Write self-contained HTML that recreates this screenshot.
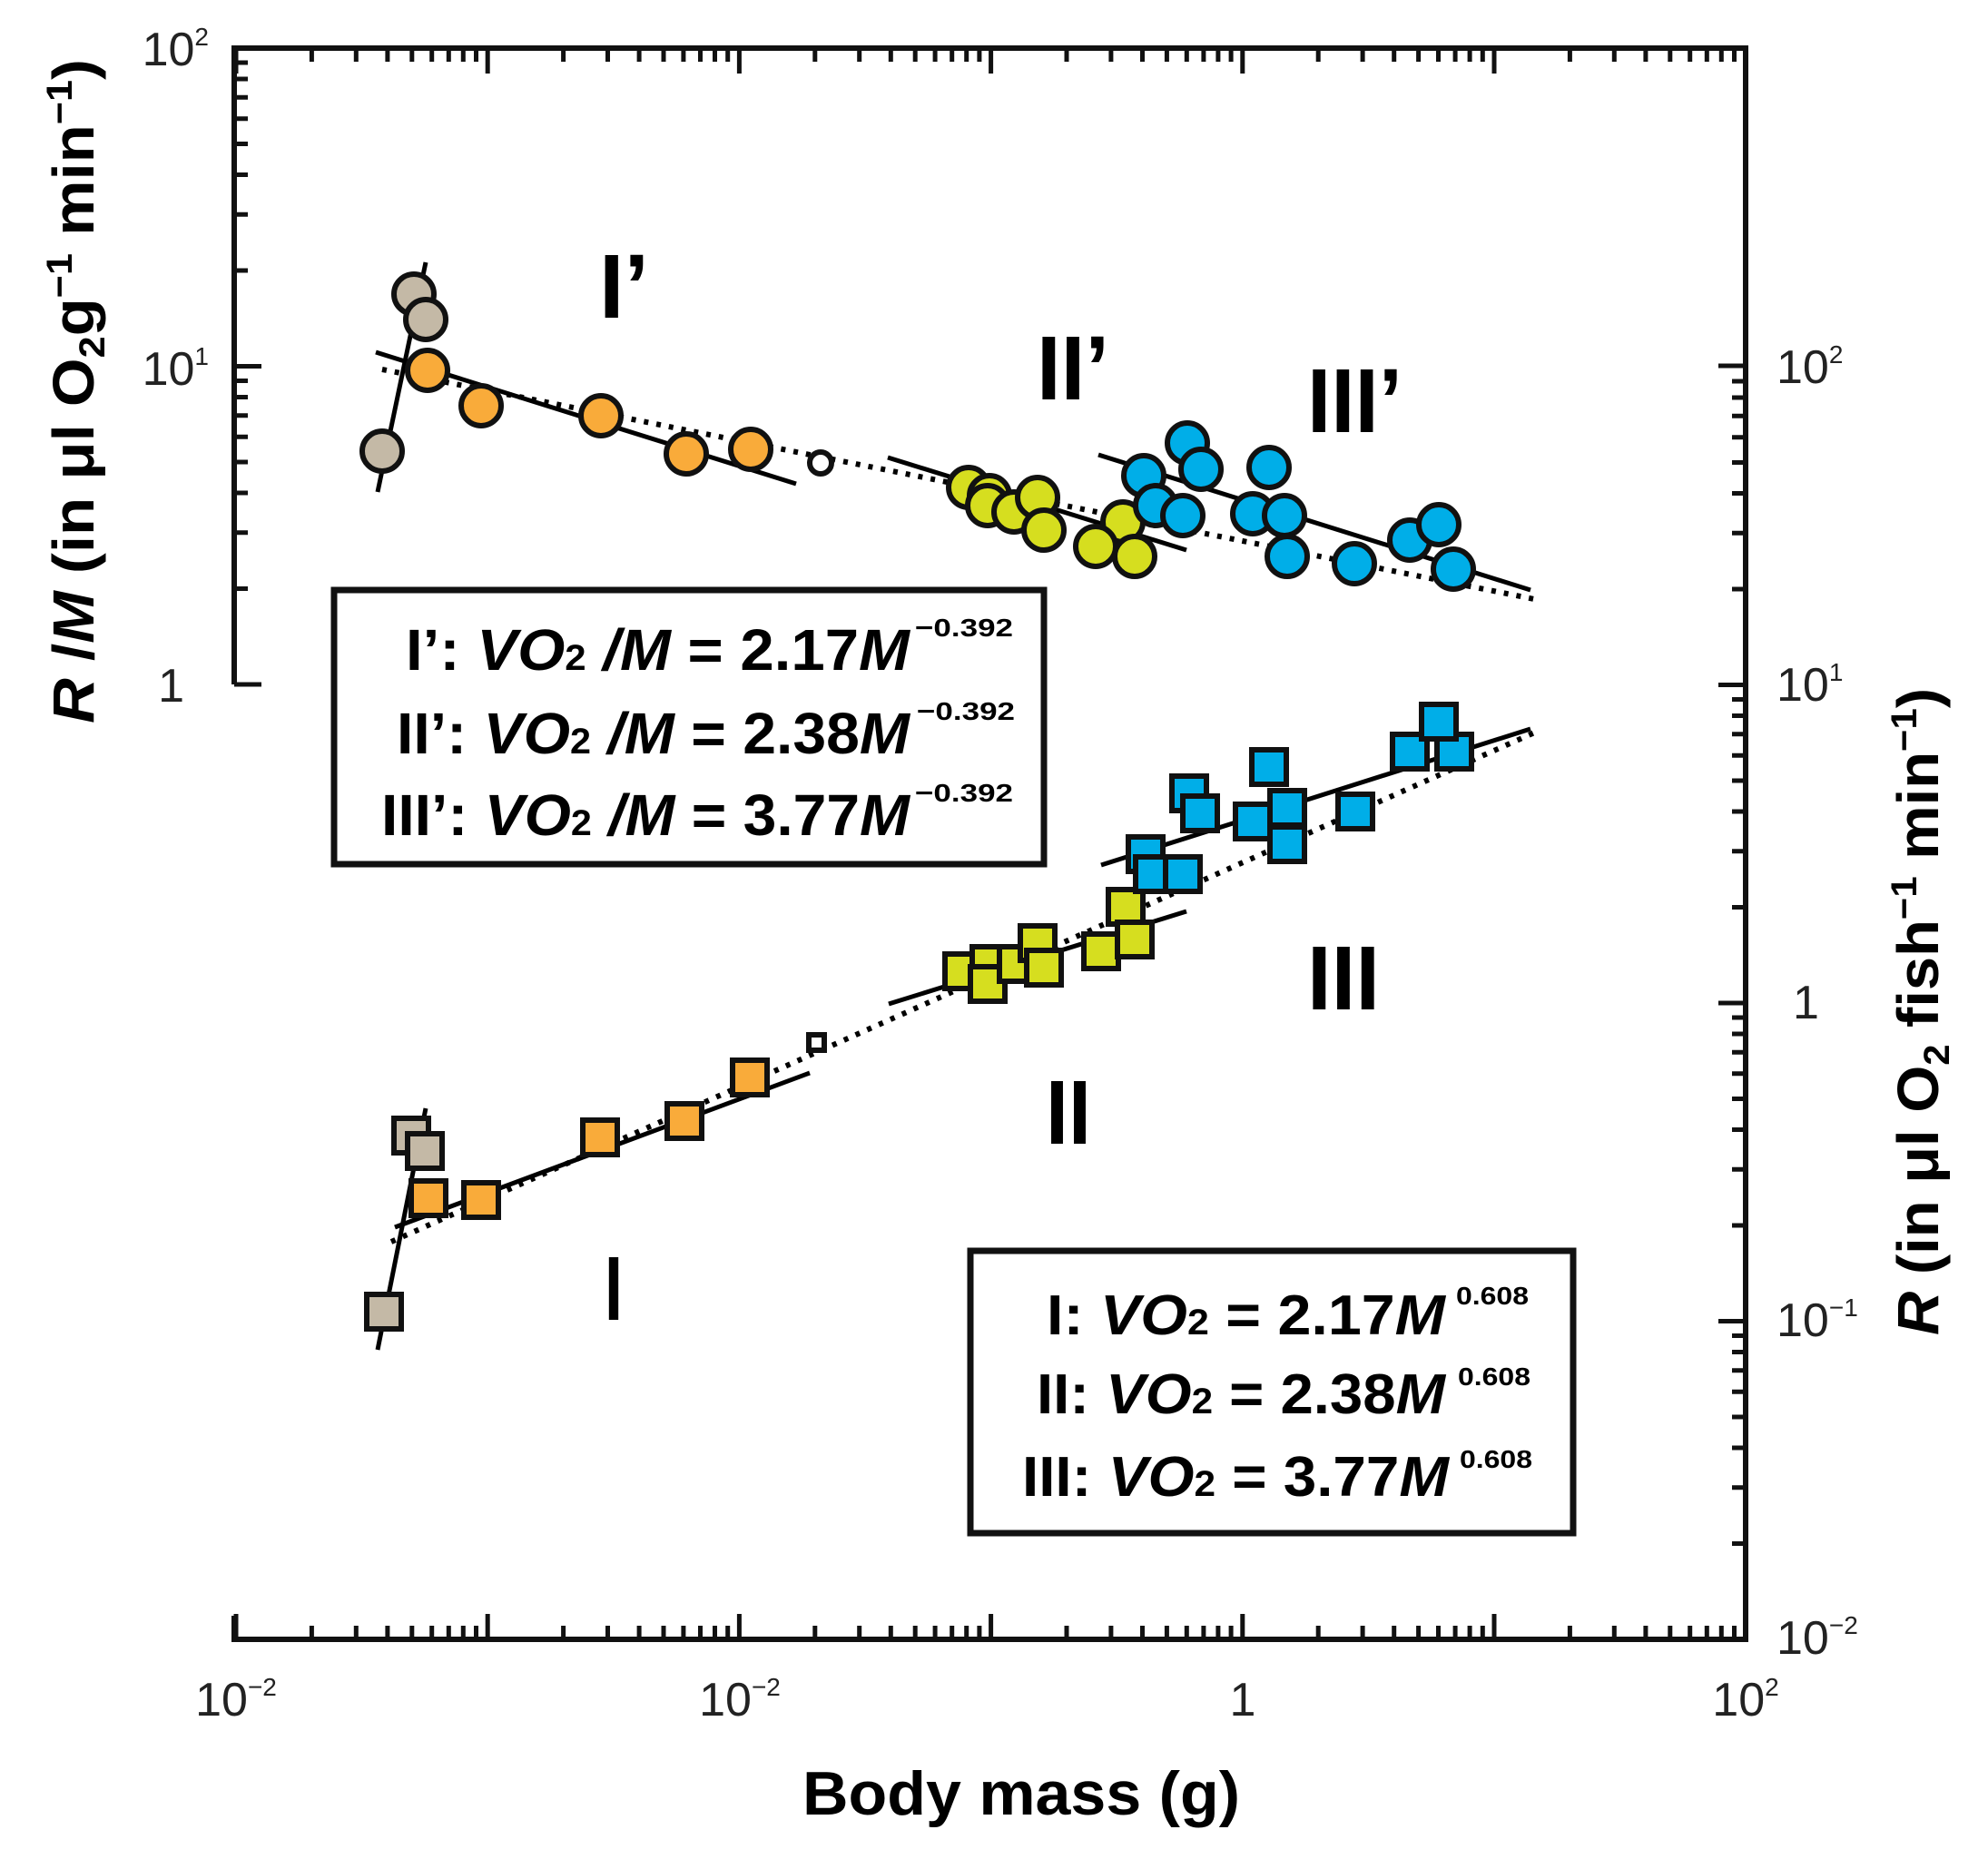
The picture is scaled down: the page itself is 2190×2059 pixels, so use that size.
<!DOCTYPE html>
<html><head><meta charset="utf-8"><style>
html,body{margin:0;padding:0;background:#fff}
svg{display:block}
text{font-family:"Liberation Sans",Arial,sans-serif}
</style></head><body>
<svg id="s" width="2190" height="2059" viewBox="0 0 2190 2059" xmlns="http://www.w3.org/2000/svg">
<g id="ticks" stroke="#111" stroke-width="5"></g>
<!-- axes -->
<g stroke="#111" stroke-width="6" fill="none">
<path d="M258 754 L258 53 L1923 53 L1923 1806 L258 1806 L258 1780"/>
</g>
<!-- tick labels -->
<g font-size="52" fill="#222">
<text x="230" y="72" text-anchor="end">10<tspan font-size="28" dy="-22">2</tspan></text>
<text x="230" y="424" text-anchor="end">10<tspan font-size="28" dy="-22">1</tspan></text>
<text x="203" y="773" text-anchor="end">1</text>
<text x="1957" y="422">10<tspan font-size="28" dy="-22">2</tspan></text>
<text x="1957" y="772">10<tspan font-size="28" dy="-22">1</tspan></text>
<text x="1975" y="1122">1</text>
<text x="1957" y="1472">10<tspan font-size="28" dy="-22">−1</tspan></text>
<text x="1957" y="1822">10<tspan font-size="28" dy="-22">−2</tspan></text>
<text x="260" y="1890" text-anchor="middle">10<tspan font-size="28" dy="-22">−2</tspan></text>
<text x="815" y="1890" text-anchor="middle">10<tspan font-size="28" dy="-22">−2</tspan></text>
<text x="1369" y="1890" text-anchor="middle">1</text>
<text x="1923" y="1890" text-anchor="middle">10<tspan font-size="28" dy="-22">2</tspan></text>
</g>
<!-- axis titles -->
<text x="884" y="1999" font-size="68" font-weight="bold" textLength="482" lengthAdjust="spacingAndGlyphs">Body mass (g)</text>
<text transform="translate(103,797) rotate(-90)" font-size="64" font-weight="bold" textLength="732" lengthAdjust="spacingAndGlyphs"><tspan font-style="italic">R</tspan> /<tspan font-style="italic">M</tspan> (in μl O<tspan font-size="40" dy="12">2</tspan><tspan dy="-12">g</tspan><tspan font-size="40" dy="-24">−1</tspan><tspan dy="24"> min</tspan><tspan font-size="40" dy="-24">−1</tspan><tspan dy="24">)</tspan></text>
<text transform="translate(2135,1471) rotate(-90)" font-size="64" font-weight="bold" textLength="713" lengthAdjust="spacingAndGlyphs"><tspan font-style="italic">R</tspan> (in μl O<tspan font-size="40" dy="12">2</tspan><tspan dy="-12"> fish</tspan><tspan font-size="40" dy="-24">−1</tspan><tspan dy="24"> min</tspan><tspan font-size="40" dy="-24">−1</tspan><tspan dy="24">)</tspan></text>

<!-- fit lines -->
<g stroke="#000" stroke-width="5" fill="none">
<line x1="416" y1="542" x2="469" y2="289"/>
<line x1="414" y1="388" x2="877" y2="533"/>
<line x1="978" y1="504" x2="1307" y2="606"/>
<line x1="1210" y1="501" x2="1686" y2="650"/>
<line x1="416" y1="1487" x2="469" y2="1221"/>
<line x1="435" y1="1352" x2="892" y2="1182"/>
<line x1="979" y1="1106" x2="1307" y2="1004"/>
<line x1="1213" y1="953" x2="1686" y2="803"/>
</g>
<g stroke="#000" stroke-width="6" fill="none" stroke-dasharray="5 9">
<line x1="421" y1="407" x2="1690" y2="660"/>
<line x1="431" y1="1368" x2="1695" y2="805"/>
</g>

<!-- circles -->
<g stroke="#111" stroke-width="6">
<g fill="#c4b9a6">
<circle cx="421" cy="497" r="22"/><circle cx="456" cy="324" r="22"/><circle cx="469" cy="352" r="22"/>
</g>
<g fill="#f9ab3a">
<circle cx="471" cy="408" r="22"/><circle cx="530" cy="447" r="22"/><circle cx="662" cy="458" r="22"/><circle cx="756" cy="500" r="22"/><circle cx="827" cy="495" r="22"/>
</g>
<circle cx="904" cy="510" r="12" fill="#fff"/>
<g fill="#d6de1f">
<circle cx="1067" cy="537" r="22"/><circle cx="1090" cy="546" r="22"/><circle cx="1088" cy="557" r="22"/><circle cx="1117" cy="564" r="22"/><circle cx="1143" cy="548" r="22"/><circle cx="1150" cy="584" r="22"/><circle cx="1237" cy="575" r="22"/><circle cx="1207" cy="602" r="22"/><circle cx="1250" cy="613" r="22"/>
</g>
<g fill="#00aee8">
<circle cx="1308" cy="488" r="22"/><circle cx="1323" cy="517" r="22"/><circle cx="1260" cy="524" r="22"/><circle cx="1273" cy="557" r="22"/><circle cx="1303" cy="568" r="22"/><circle cx="1398" cy="515" r="22"/><circle cx="1380" cy="566" r="22"/><circle cx="1415" cy="568" r="22"/><circle cx="1418" cy="613" r="22"/><circle cx="1492" cy="621" r="22"/><circle cx="1553" cy="595" r="22"/><circle cx="1585" cy="578" r="22"/><circle cx="1601" cy="627" r="22"/>
</g>
</g>
<!-- squares -->
<g stroke="#111" stroke-width="6">
<g fill="#c4b9a6">
<rect x="434" y="1232" width="38" height="38"/><rect x="449" y="1249" width="38" height="38"/><rect x="404" y="1426" width="38" height="38"/>
</g>
<g fill="#f9ab3a">
<rect x="453" y="1301" width="38" height="38"/><rect x="511" y="1303" width="38" height="38"/><rect x="642" y="1234" width="38" height="38"/><rect x="735" y="1216" width="38" height="38"/><rect x="807" y="1168" width="38" height="38"/>
</g>
<rect x="891" y="1140" width="17" height="17" fill="#fff"/>
<g fill="#d6de1f">
<rect x="1041" y="1051" width="38" height="38"/><rect x="1071" y="1043" width="38" height="38"/><rect x="1069" y="1065" width="38" height="38"/><rect x="1101" y="1043" width="38" height="38"/><rect x="1124" y="1020" width="38" height="38"/><rect x="1131" y="1047" width="38" height="38"/><rect x="1194" y="1029" width="38" height="38"/><rect x="1221" y="980" width="38" height="38"/><rect x="1231" y="1016" width="38" height="38"/>
</g>
<g fill="#00aee8">
<rect x="1243" y="922" width="38" height="38"/><rect x="1251" y="944" width="38" height="38"/><rect x="1284" y="944" width="38" height="38"/><rect x="1291" y="855" width="38" height="38"/><rect x="1303" y="877" width="38" height="38"/><rect x="1361" y="886" width="38" height="38"/><rect x="1379" y="826" width="38" height="38"/><rect x="1399" y="871" width="38" height="38"/><rect x="1399" y="911" width="38" height="38"/><rect x="1474" y="875" width="38" height="38"/><rect x="1534" y="809" width="38" height="38"/><rect x="1583" y="809" width="38" height="38"/><rect x="1566" y="776" width="38" height="38"/>
</g>
</g>

<!-- roman labels -->
<g font-size="100" font-weight="bold" fill="#000">
<text x="660" y="350" textLength="55" lengthAdjust="spacingAndGlyphs">I’</text>
<text x="1142" y="440" textLength="80" lengthAdjust="spacingAndGlyphs">II’</text>
<text x="1440" y="476" textLength="105" lengthAdjust="spacingAndGlyphs">III’</text>
<text x="666" y="1454" textLength="20" lengthAdjust="spacingAndGlyphs">I</text>
<text x="1152" y="1260" textLength="50" lengthAdjust="spacingAndGlyphs">II</text>
<text x="1440" y="1112" textLength="80" lengthAdjust="spacingAndGlyphs">III</text>
</g>

<!-- legend boxes -->
<rect x="368" y="650" width="782" height="302" fill="#fff" stroke="#111" stroke-width="7"/>
<g font-size="64" font-weight="bold" fill="#000">
<text x="447" y="738" textLength="555" lengthAdjust="spacingAndGlyphs">I’: <tspan font-style="italic">VO</tspan><tspan font-size="40">2</tspan> <tspan font-style="italic">/M</tspan> = 2.17<tspan font-style="italic">M</tspan></text>
<text x="437" y="830" textLength="565" lengthAdjust="spacingAndGlyphs">II’: <tspan font-style="italic">VO</tspan><tspan font-size="40">2</tspan> <tspan font-style="italic">/M</tspan> = 2.38<tspan font-style="italic">M</tspan></text>
<text x="420" y="920" textLength="582" lengthAdjust="spacingAndGlyphs">III’: <tspan font-style="italic">VO</tspan><tspan font-size="40">2</tspan> <tspan font-style="italic">/M</tspan> = 3.77<tspan font-style="italic">M</tspan></text>
</g>
<g font-size="28" font-weight="bold" fill="#000">
<text x="1008" y="701" textLength="108" lengthAdjust="spacingAndGlyphs">−0.392</text>
<text x="1010" y="793" textLength="108" lengthAdjust="spacingAndGlyphs">−0.392</text>
<text x="1008" y="883" textLength="108" lengthAdjust="spacingAndGlyphs">−0.392</text>
</g>
<rect x="1069" y="1378" width="664" height="311" fill="#fff" stroke="#111" stroke-width="7"/>
<g font-size="62" font-weight="bold" fill="#000">
<text x="1153" y="1470" textLength="439" lengthAdjust="spacingAndGlyphs">I: <tspan font-style="italic">VO</tspan><tspan font-size="40">2</tspan> = 2.17<tspan font-style="italic">M</tspan></text>
<text x="1142" y="1557" textLength="450" lengthAdjust="spacingAndGlyphs">II: <tspan font-style="italic">VO</tspan><tspan font-size="40">2</tspan> = 2.38<tspan font-style="italic">M</tspan></text>
<text x="1126" y="1648" textLength="470" lengthAdjust="spacingAndGlyphs">III: <tspan font-style="italic">VO</tspan><tspan font-size="40">2</tspan> = 3.77<tspan font-style="italic">M</tspan></text>
</g>
<g font-size="28" font-weight="bold" fill="#000">
<text x="1604" y="1437" textLength="80" lengthAdjust="spacingAndGlyphs">0.608</text>
<text x="1606" y="1526" textLength="80" lengthAdjust="spacingAndGlyphs">0.608</text>
<text x="1608" y="1617" textLength="80" lengthAdjust="spacingAndGlyphs">0.608</text>
</g>
</svg>
<script>
(function(){
var g=document.getElementById('ticks'),d='';
var X0=260,DX=277.2;
function lg(k){return Math.log10(k);}
// x ticks top (down) and bottom (up)
for(var dec=0;dec<6;dec++){for(var k=1;k<=9;k++){var x=X0+DX*(dec+lg(k));var L=(k==1)?28:15;
d+='M'+x.toFixed(1)+' 53v'+L+'M'+x.toFixed(1)+' 1806v'+(-L);}}
d+='M1923 53v28M1923 1806v-28';
// left y ticks (right-pointing), 2 decades 1..100 from 754 to 53
var DY=350.5;
for(var dec=0;dec<2;dec++){for(var k=1;k<=9;k++){var y=754-DY*(dec+lg(k));var L=(k==1)?30:15;d+='M258 '+y.toFixed(1)+'h'+L;}}
d+='M258 53h30';
// right ticks (left-pointing), 4 decades from 1806 up to 403
for(var dec=0;dec<4;dec++){for(var k=1;k<=9;k++){var y=1806-DY*(dec+lg(k));var L=(k==1)?30:15;d+='M1923 '+y.toFixed(1)+'h'+(-L);}}
d+='M1923 403h-30';
var p=document.createElementNS('http://www.w3.org/2000/svg','path');p.setAttribute('d',d);g.appendChild(p);
})();
</script>
</body></html>
